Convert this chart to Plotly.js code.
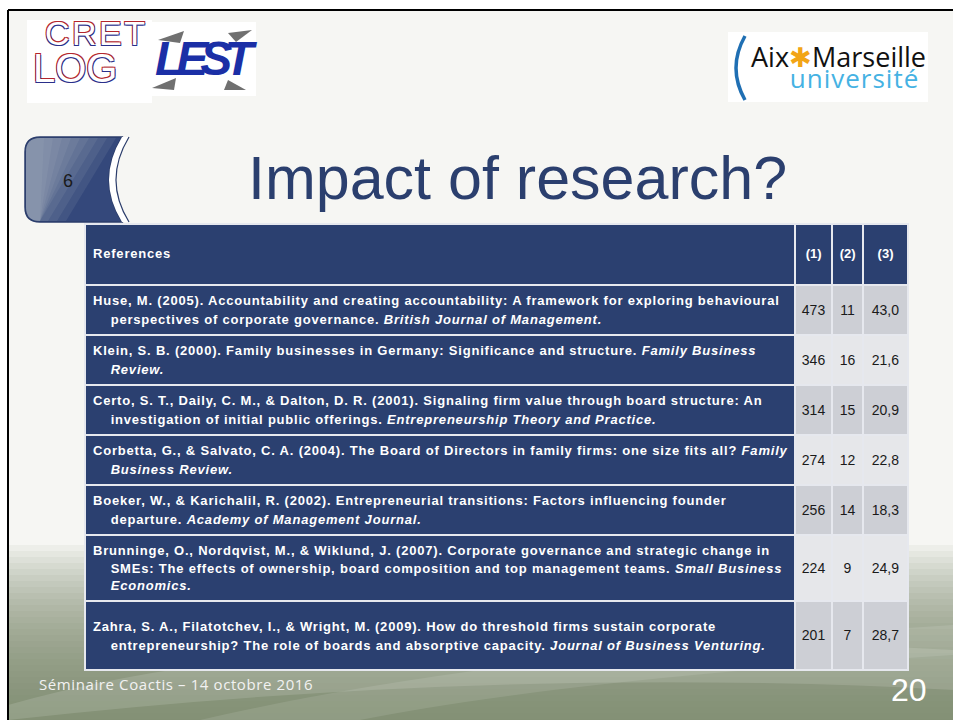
<!DOCTYPE html>
<html><head><meta charset="utf-8">
<script src="https://cdn.plot.ly/plotly-3.0.1.min.js"></script>
<style>html,body{margin:0;padding:0;background:#fff;overflow:hidden}#chart{width:953px;height:720px}</style>
</head><body><div id="chart"></div>
<script>
// ---------- data ----------
const headers = ['References', '(1)', '(2)', '(3)'];
const references = [
  ['Huse, M. (2005). Accountability and creating accountability: A framework for exploring behavioural',
   'perspectives of corporate governance. <i>British Journal of Management.</i>'],
  ['Klein, S. B. (2000). Family businesses in Germany: Significance and structure. <i>Family Business</i>',
   '<i>Review.</i>'],
  ['Certo, S. T., Daily, C. M., &amp; Dalton, D. R. (2001). Signaling firm value through board structure: An',
   'investigation of initial public offerings. <i>Entrepreneurship Theory and Practice.</i>'],
  ['Corbetta, G., &amp; Salvato, C. A. (2004). The Board of Directors in family firms: one size fits all? <i>Family</i>',
   '<i>Business Review.</i>'],
  ['Boeker, W., &amp; Karichalil, R. (2002). Entrepreneurial transitions: Factors influencing founder',
   'departure. <i>Academy of Management Journal.</i>'],
  ['Brunninge, O., Nordqvist, M., &amp; Wiklund, J. (2007). Corporate governance and strategic change in',
   'SMEs: The effects of ownership, board composition and top management teams. <i>Small Business</i>',
   '<i>Economics.</i>'],
  ['Zahra, S. A., Filatotchev, I., &amp; Wright, M. (2009). How do threshold firms sustain corporate',
   'entrepreneurship? The role of boards and absorptive capacity. <i>Journal of Business Venturing.</i>']
];
const citations = [473, 346, 314, 274, 256, 224, 201];
const years = [11, 16, 15, 12, 14, 9, 7];
const citationsPerYear = [43.0, 21.6, 20.9, 22.8, 18.3, 24.9, 28.7];
const title = 'Impact of research?';
const sectionNumber = '6';
const footerText = 'Séminaire Coactis – 14 octobre 2016';
const slideNumber = '20';

// ---------- styling helpers ----------
const W = 953, H = 720;
const X = p => p / W, Y = p => 1 - p / H;
const NAVY = '#2b4070';
const FONT = 'Liberation Sans, Arial, sans-serif';
// table text: a tiny base size makes each <br> a small vertical step
const STEP = 4.75;                    // px per <br>
const B = STEP / 1.3;
const rowStep = [STEP, STEP, STEP, STEP, STEP, 4.375, STEP];  // tighter lines in the 3-line row
const rowLead = [0, 0, 0, 0, 0, 0, 2];   // extra top padding, in <br>
const rowTrail = [0, 0, 0, 0, 0, 0, 2];  // extra bottom padding, in <br>
const NB = '\u00A0';
const sp = (t, s, ls, extra) => '<span style="font-size:' + s + 'px' + (ls ? ';letter-spacing:' + ls + 'px' : '') + (extra || '') + '">' + t + '</span>';
const br = n => '<br>'.repeat(n);

const refCells = references.map((lines, i) => {
  let s = rowLead[i] ? sp(NB, 13) + br(rowLead[i]) : '';
  s += lines.map((l, k) => sp('<b>' + (k ? NB + NB + NB + NB : '') + l + '</b>', 13, 0.8)).join(br(4));
  if (rowTrail[i]) s += br(rowTrail[i]) + sp(NB, 13);
  return s;
});
const numCell = (v, i) => sp(NB, 13) + br(rowLead[i] + 2 * (references[i].length - 1)) + sp(v, 14);
const fmt1 = v => v.toFixed(1).replace('.', ',');

const rowFills = citations.map((_, i) => i % 2 === 0 ? '#cdcfd5' : '#e6e7ea');
const sizes = rowStep.map(s => s / 1.3);

const table = {
  type: 'table',
  domain: {x: [X(85), X(909)], y: [0, Y(224)]},
  columnwidth: [711, 37, 31, 45],
  header: {
    values: headers.map(h => sp(NB, 13) + br(3) + sp('<b>' + h + '</b>', 13, h.length > 3 ? 0.8 : 0)),
    align: ['left', 'center', 'center', 'center'],
    height: 61,
    fill: {color: NAVY},
    line: {color: '#e6e8ee', width: 2},
    font: {family: FONT, size: B, color: '#ffffff'}
  },
  cells: {
    values: [refCells, citations.map(numCell), years.map(numCell), citationsPerYear.map((v, i) => numCell(fmt1(v), i))],
    align: ['left', 'center', 'center', 'center'],
    height: 49,
    fill: {color: [citations.map(() => NAVY), rowFills, rowFills, rowFills]},
    line: {color: '#e6e8ee', width: 2},
    font: {family: FONT, size: [sizes, sizes, sizes, sizes], color: ['#ffffff', '#1a1a1a', '#1a1a1a', '#1a1a1a']}
  }
};

// ---------- slide decoration ----------
const shapes = [];
const rect = (x0, y0, x1, y1, fill, extra) => Object.assign({type: 'rect', xref: 'paper', yref: 'paper', x0: X(x0), x1: X(x1), y0: Y(y1), y1: Y(y0), fillcolor: fill, line: {width: 0}, layer: 'below'}, extra || {});
const P = (x, y) => X(x) + ',' + Y(y);
const path = (d, fill, extra) => Object.assign({type: 'path', xref: 'paper', yref: 'paper', layer: 'below', path: d, fillcolor: fill, line: {width: 0}}, extra || {});

shapes.push(rect(8, 10, 953, 720, '#f6f6f3'));
// bottom gradient: stacked translucent rects
for (let i = 0; i < 30; i++) {
  const y0 = 545 + i * 6;
  shapes.push(rect(8, y0, 953, 720, '#7f806a', {opacity: 0.068}));
}
// soft lighter swooshes
shapes.push(path('M' + P(8, 705) + ' Q' + P(320, 615) + ' ' + P(953, 650) + ' L' + P(953, 690) + ' Q' + P(500, 665) + ' ' + P(8, 720) + ' Z', '#ffffff', {opacity: 0.13}));
shapes.push(path('M' + P(200, 720) + ' Q' + P(480, 655) + ' ' + P(953, 625) + ' L' + P(953, 655) + ' Q' + P(560, 680) + ' ' + P(360, 720) + ' Z', '#ffffff', {opacity: 0.10}));
// frame
shapes.push({type: 'line', xref: 'paper', yref: 'paper', x0: X(8), x1: X(953), y0: Y(10), y1: Y(10), line: {color: '#000', width: 2}, layer: 'below'});
shapes.push({type: 'line', xref: 'paper', yref: 'paper', x0: X(8), x1: X(8), y0: Y(10), y1: Y(720), line: {color: '#000', width: 2}, layer: 'below'});
// logo boxes
shapes.push(rect(27, 20, 152, 103, '#ffffff'));
shapes.push(rect(150, 22, 256, 96, '#ffffff'));
shapes.push(rect(728, 32, 928, 102, '#ffffff'));
// LEST arrow heads
shapes.push(path('M' + P(158, 40) + ' L' + P(184, 31) + ' L' + P(180, 43) + ' Z', '#707070'));
shapes.push(path('M' + P(252, 30) + ' L' + P(228, 33) + ' L' + P(236, 42) + ' Z', '#707070'));
shapes.push(path('M' + P(152, 88) + ' L' + P(176, 78) + ' L' + P(174, 90) + ' Z', '#707070'));
shapes.push(path('M' + P(246, 90) + ' L' + P(228, 80) + ' L' + P(224, 90) + ' Z', '#707070'));
// section tab
const tabBody = 'M' + P(40, 137) + ' L' + P(122, 137) + ' Q' + P(96, 180) + ' ' + P(122, 222) + ' L' + P(40, 222) + ' Q' + P(25, 222) + ' ' + P(25, 207) + ' L' + P(25, 152) + ' Q' + P(25, 137) + ' ' + P(40, 137) + ' Z';
shapes.push(path(tabBody, '#34487b', {line: {color: '#2b3d6b', width: 1.5}}));
for (let k = 0; k < 9; k++) {
  const xt = 116 - k * 9, xb = Math.max(40, xt - 50);
  shapes.push(path('M' + P(40, 138) + ' L' + P(xt, 138) + ' L' + P(xb, 221) + ' L' + P(40, 221) + ' Q' + P(26, 221) + ' ' + P(26, 207) + ' L' + P(26, 152) + ' Q' + P(26, 138) + ' ' + P(40, 138) + ' Z', '#b7bccb', {opacity: 0.11}));
}
shapes.push(path('M' + P(122, 137) + ' L' + P(129, 137) + ' Q' + P(103, 180) + ' ' + P(129, 222) + ' L' + P(122, 222) + ' Q' + P(96, 180) + ' ' + P(122, 137) + ' Z', '#ffffff'));
shapes.push(path('M' + P(129, 137) + ' Q' + P(103, 180) + ' ' + P(129, 222), 'rgba(0,0,0,0)', {line: {color: '#2b3d6b', width: 1.2}}));
// Aix-Marseille arc
shapes.push(path('M' + P(745, 36) + ' Q' + P(727, 68) + ' ' + P(745, 100), 'rgba(0,0,0,0)', {line: {color: '#1f6fb3', width: 3.5}}));

const ann = (x, y, text, font, extra) => Object.assign({xref: 'paper', yref: 'paper', x: X(x), y: Y(y), text: text, showarrow: false, font: font, xanchor: 'left', yanchor: 'middle', align: 'left'}, extra || {});
const outline = '1px 1px 0 #2a2f8a, -1px -1px 0 #b3262d, 1px -1px 0 #b3262d, -1px 1px 0 #2a2f8a';
const annotations = [
  ann(246, 178, title, {family: FONT, size: 61, color: '#2b3f6e'}),
  ann(68, 181, sectionNumber, {family: FONT, size: 18, color: '#1a1a1a'}, {xanchor: 'center'}),
  ann(37, 684, sp(footerText, 15, 0.6), {family: 'Open Sans, sans-serif', size: 15, color: '#f2f2f2'}),
  ann(929, 690, slideNumber, {family: FONT, size: 32, color: '#ffffff'}, {xanchor: 'right'}),
  // logos (as text)
  ann(31, 12, sp(NB + 'CRET', 34, 2.5) + '<br><br><br><br>' + sp('LOG', 40, 0), {family: FONT, size: 7.1, color: '#ffffff', shadow: outline}, {yanchor: 'top'}),
  ann(153, 58, '<b><i>' + sp('LEST', 48, -8) + '</i></b>', {family: FONT, size: 48, color: '#1b2fa6'}),
  ann(749, 36, sp('Aix<span style="color:#f2a516">✱</span>Marseille', 27) + '<br>' + sp(NB + NB + NB + NB + NB + 'université', 26, 1, ';fill:#45b2e3'),
      {family: 'Open Sans, sans-serif', size: 16.2, color: '#111111'}, {yanchor: 'top'})
];

const layout = {
  width: W, height: H,
  margin: {l: 0, r: 0, t: 0, b: 0},
  paper_bgcolor: '#ffffff',
  shapes: shapes,
  annotations: annotations,
  showlegend: false
};
Plotly.newPlot('chart', [table], layout, {staticPlot: true, displayModeBar: false});
</script>
</body></html>
